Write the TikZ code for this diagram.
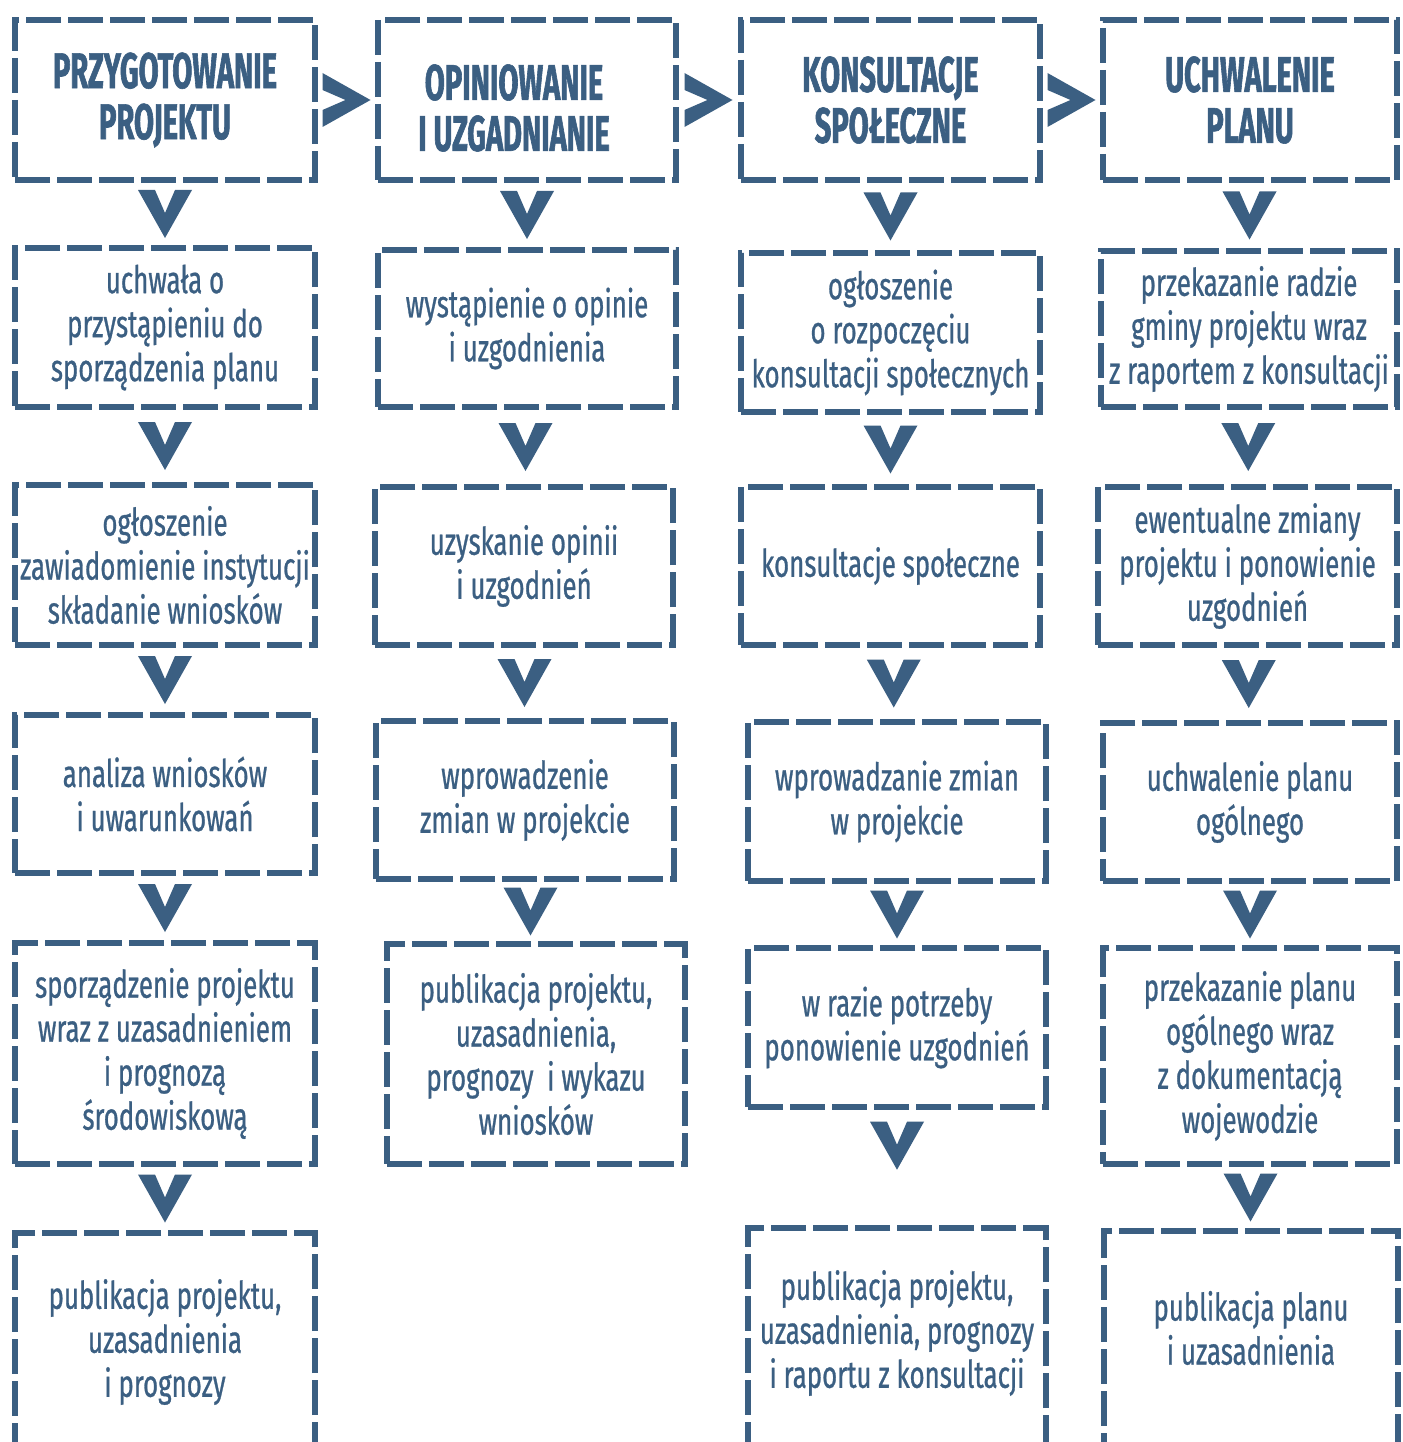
\documentclass[tikz,border=0pt]{standalone}
\usepackage{fontspec}
\setmainfont[FakeStretch=0.68,FakeBold=0.7]{Fira Sans}
\newfontfamily\headfont[FakeStretch=0.58,FakeBold=1.2]{Fira Sans}
\usetikzlibrary{calc}
\definecolor{navy}{HTML}{3B5F82}
\tikzset{
  box/.style={draw=navy, line width=6.5pt, dash pattern=on 35pt off 7pt,
    inner sep=0pt, outer sep=0pt, text=navy, align=center,
    font=\fontsize{38}{44}\selectfont},
  head/.style={box, font=\headfont\bfseries\fontsize{50}{51}\selectfont},
  txt/.style={text=navy, align=center, inner sep=0pt,
    font=\fontsize{38}{44}\selectfont},
  headtxt/.style={txt, font=\headfont\bfseries\fontsize{50}{51}\selectfont},
  vchev/.pic={\fill[navy] (-27,-24) -- (-10,-24) -- (0,-1) -- (10,-24) -- (27,-24) -- (0,24) -- cycle;},
  rchev/.pic={\fill[navy] (-24,-27) -- (-24,-10) -- (-1,0) -- (-24,10) -- (-24,27) -- (24,0) -- cycle;}
}
\begin{document}
\begin{tikzpicture}[x=1pt,y=-1pt]
\useasboundingbox[fill=white] (0,0) rectangle (1402,1442);
% column 1
\node[head, minimum width=300, minimum height=160] (c1h) at (165,100) {PRZYGOTOWANIE\\PROJEKTU};
\node[box, minimum width=300, minimum height=159] (c1a) at (165,327.5) {uchwała o\\przystąpieniu do\\sporządzenia planu};
\node[box, minimum width=300, minimum height=160] (c1b) at (165,565) {ogłoszenie\\zawiadomienie instytucji\\składanie wniosków};
\node[box, minimum width=300, minimum height=158] (c1c) at (165,794) {analiza wniosków\\i uwarunkowań};
\node[box, minimum width=300, minimum height=221] (c1d) at (165,1053.5) {sporządzenie projektu\\wraz z uzasadnieniem\\i prognozą\\środowiskową};
\node[box, minimum width=300, minimum height=260, anchor=north] (c1e) at (165,1233) {};
\node[txt] (c1et) at (165,1342) {publikacja projektu,\\uzasadnienia\\i prognozy};
% column 2
\node[box, minimum width=298, minimum height=160] (c2h) at (527,100) {};
\node[headtxt] (c2ht) at (514,108) {OPINIOWANIE\\I UZGADNIANIE};
\node[box, minimum width=298, minimum height=157] (c2a) at (527,328.5) {wystąpienie o opinie\\i uzgodnienia};
\node[box, minimum width=298, minimum height=158] (c2b) at (524,566) {uzyskanie opinii\\i uzgodnień};
\node[box, minimum width=298, minimum height=158] (c2c) at (525,800) {wprowadzenie\\zmian w projekcie};
\node[box, minimum width=298, minimum height=220] (c2d) at (536,1054) {publikacja projektu,\\uzasadnienia,\\prognozy\ \ i wykazu\\wniosków};
% column 3
\node[head, minimum width=299, minimum height=160] (c3h) at (890.5,100) {KONSULTACJE\\SPOŁECZNE};
\node[box, minimum width=299, minimum height=159] (c3a) at (890.5,332.5) {ogłoszenie\\o rozpoczęciu\\konsultacji społecznych};
\node[box, minimum width=299, minimum height=158] (c3b) at (890.5,566) {konsultacje społeczne};
\node[box, minimum width=298, minimum height=159] (c3c) at (897,801.5) {wprowadzanie zmian\\w projekcie};
\node[box, minimum width=298, minimum height=159] (c3d) at (897,1027.5) {w razie potrzeby\\ponowienie uzgodnień};
\node[box, minimum width=298, minimum height=260, anchor=north] (c3e) at (897,1228) {};
\node[txt] (c3et) at (897,1333) {publikacja projektu,\\uzasadnienia, prognozy\\i raportu z konsultacji};
% column 4
\node[head, minimum width=294, minimum height=160] (c4h) at (1250,100) {UCHWALENIE\\PLANU};
\node[box, minimum width=296, minimum height=156] (c4a) at (1249,329) {przekazanie radzie\\gminy projektu wraz\\z raportem z konsultacji};
\node[box, minimum width=299, minimum height=158] (c4b) at (1247.5,566) {ewentualne zmiany\\projektu i ponowienie\\uzgodnień};
\node[box, minimum width=294, minimum height=158] (c4c) at (1250,802) {uchwalenie planu\\ogólnego};
\node[box, minimum width=294, minimum height=216] (c4d) at (1250,1056) {przekazanie planu\\ogólnego wraz\\z dokumentacją\\wojewodzie};
\node[box, minimum width=294, minimum height=260, anchor=north] (c4e) at (1251,1231) {};
\node[txt] (c4et) at (1251,1328) {publikacja planu\\i uzasadnienia};
% horizontal chevrons
\pic at ($(c1h.east)!0.5!(c2h.west)$) {rchev};
\pic at ($(c2h.east)!0.5!(c3h.west)$) {rchev};
\pic at ($(c3h.east)!0.5!(c4h.west)$) {rchev};
% vertical chevrons
\pic at ($(c1h.south)!0.5!(c1a.north)$) {vchev};
\pic at ($(c1a.south)!0.5!(c1b.north)$) {vchev};
\pic at ($(c1b.south)!0.5!(c1c.north)$) {vchev};
\pic at ($(c1c.south)!0.5!(c1d.north)$) {vchev};
\pic at ($(c1d.south)!0.5!(c1e.north)$) {vchev};
\pic at ($(c2h.south)!0.5!(c2a.north)$) {vchev};
\pic at ($(c2a.south)!0.5!(c2b.north)$) {vchev};
\pic at ($(c2b.south)!0.5!(c2c.north)$) {vchev};
\pic at ($(c2c.south)!0.5!(c2d.north)$) {vchev};
\pic at ($(c3h.south)!0.5!(c3a.north)$) {vchev};
\pic at ($(c3a.south)!0.5!(c3b.north)$) {vchev};
\pic at ($(c3b.south)!0.5!(c3c.north)$) {vchev};
\pic at ($(c3c.south)!0.5!(c3d.north)$) {vchev};
\pic at ($(c3d.south)!0.32!(c3e.north)$) {vchev};
\pic at ($(c4h.south)!0.5!(c4a.north)$) {vchev};
\pic at ($(c4a.south)!0.5!(c4b.north)$) {vchev};
\pic at ($(c4b.south)!0.5!(c4c.north)$) {vchev};
\pic at ($(c4c.south)!0.5!(c4d.north)$) {vchev};
\pic at ($(c4d.south)!0.5!(c4e.north)$) {vchev};
\end{tikzpicture}
\end{document}
